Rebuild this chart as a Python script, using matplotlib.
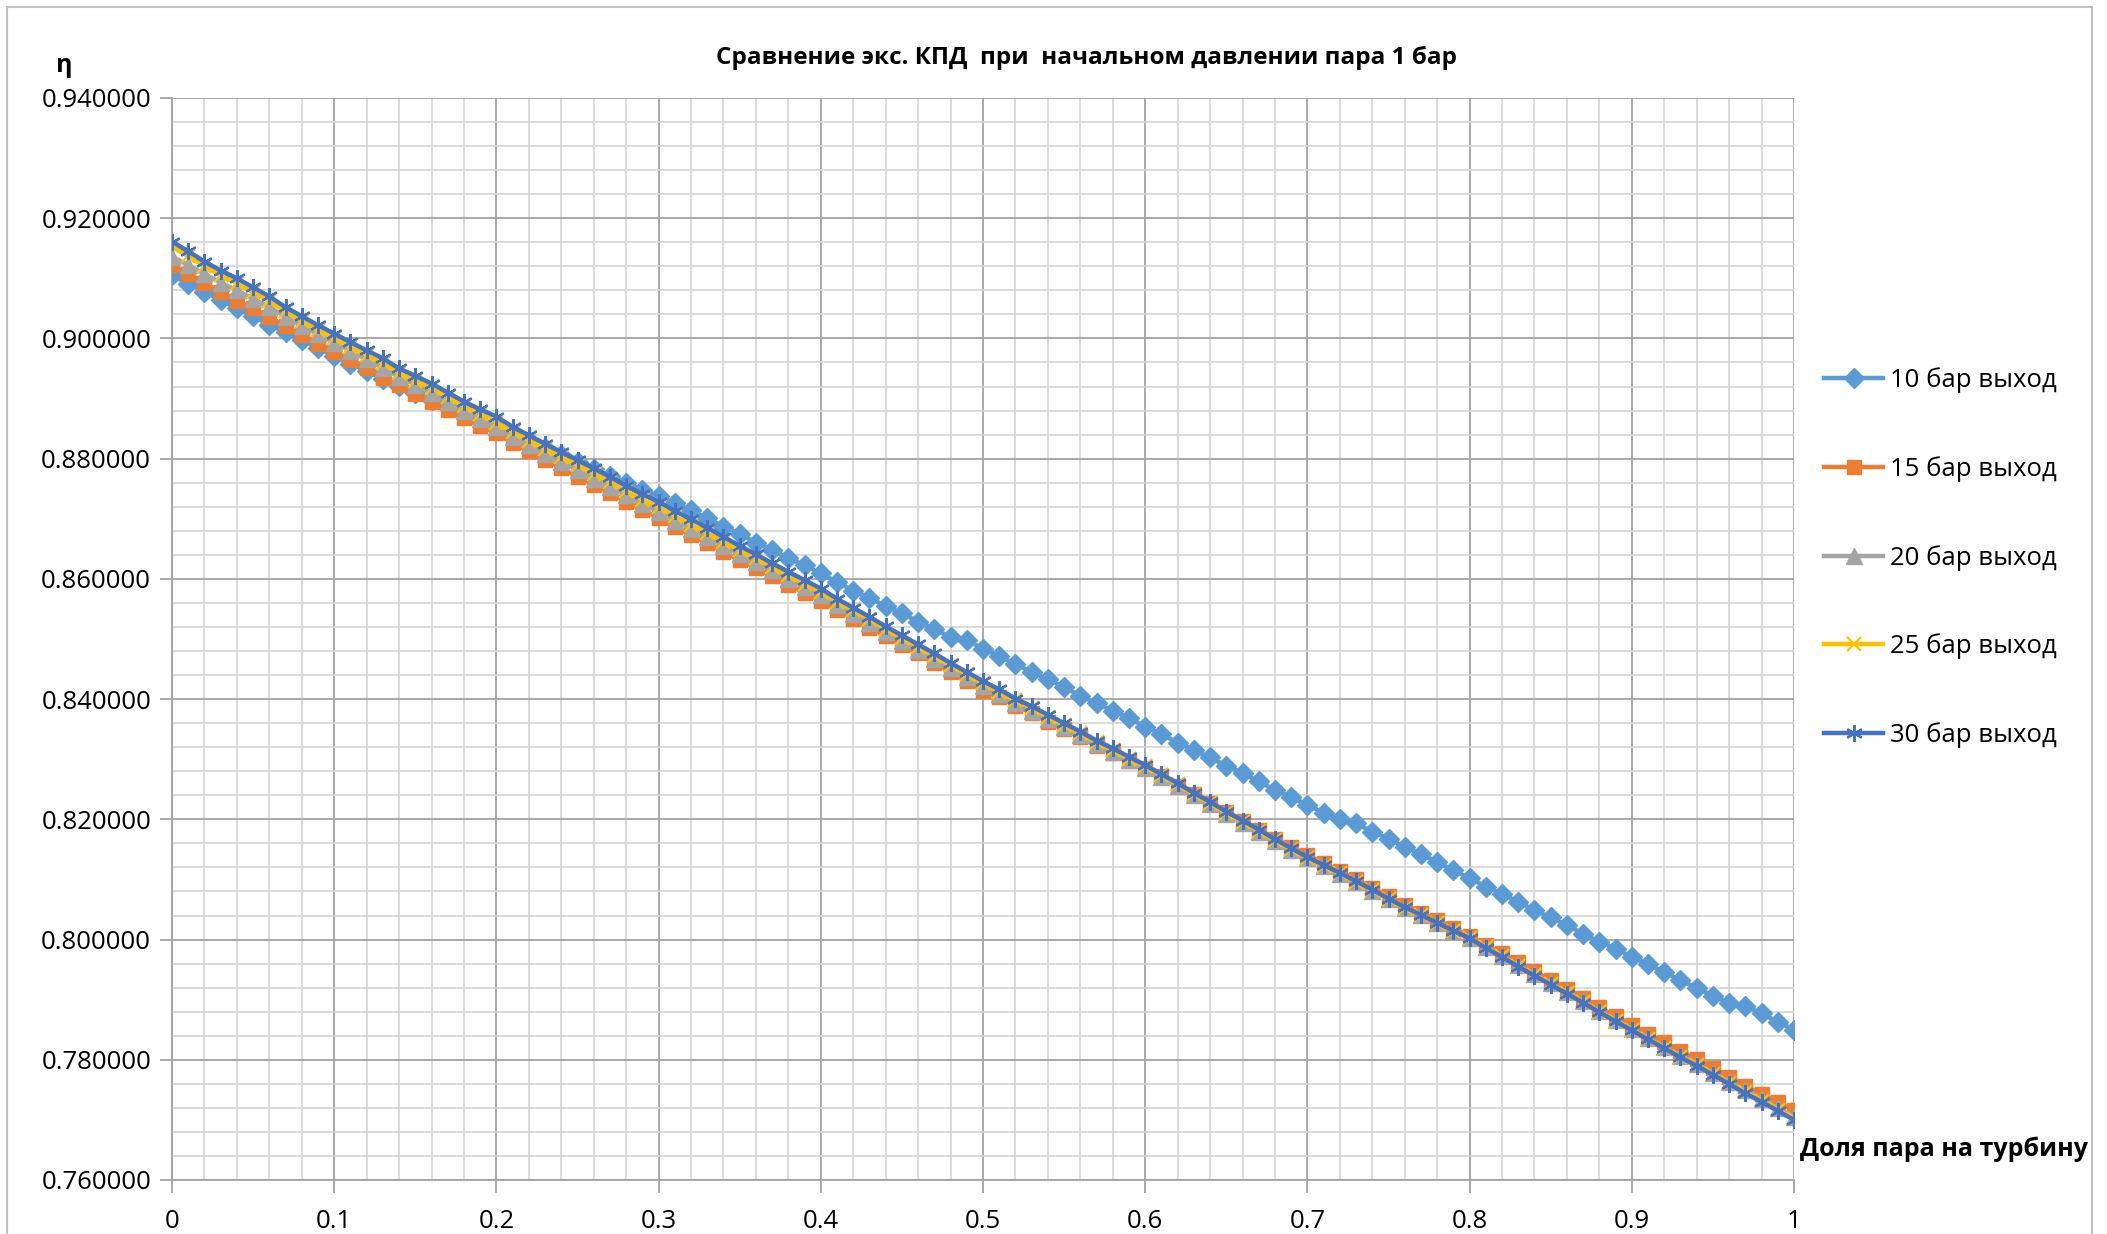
import matplotlib
matplotlib.use('Agg')
import matplotlib.pyplot as plt
import numpy as np
from matplotlib.patches import Rectangle
from matplotlib.ticker import MultipleLocator, FormatStrFormatter

plt.rcParams['font.family'] = ['Open Sans', 'DejaVu Sans']

# share of steam to the turbine, 0 .. 1 step 0.01
share = [round(i * 0.01, 2) for i in range(101)]

eta_10 = [0.9105, 0.9091, 0.9078, 0.9064, 0.9050, 0.9037, 0.9023, 0.9010, 0.8997, 0.8984,
          0.8971, 0.8958, 0.8946, 0.8933, 0.8921, 0.8909, 0.8897, 0.8886, 0.8874, 0.8863,
          0.8852, 0.8840, 0.8829, 0.8818, 0.8806, 0.8795, 0.8783, 0.8771, 0.8760, 0.8748,
          0.8738, 0.8726, 0.8714, 0.8701, 0.8687, 0.8675, 0.8660, 0.8648, 0.8634, 0.8623,
          0.8609, 0.8595, 0.8580, 0.8568, 0.8555, 0.8543, 0.8529, 0.8516, 0.8503, 0.8498,
          0.8484, 0.8472, 0.8458, 0.8445, 0.8433, 0.8420, 0.8405, 0.8393, 0.8381, 0.8368,
          0.8354, 0.8342, 0.8327, 0.8315, 0.8303, 0.8289, 0.8277, 0.8263, 0.8249, 0.8237,
          0.8224, 0.8211, 0.8200, 0.8194, 0.8179, 0.8168, 0.8154, 0.8142, 0.8129, 0.8115,
          0.8102, 0.8088, 0.8076, 0.8063, 0.8049, 0.8037, 0.8024, 0.8010, 0.7996, 0.7985,
          0.7971, 0.7959, 0.7946, 0.7932, 0.7920, 0.7906, 0.7895, 0.7890, 0.7877, 0.7863,
          0.7850]

eta_15 = [0.9122, 0.9107, 0.9093, 0.9077, 0.9063, 0.9050, 0.9035, 0.9020, 0.9006, 0.8991,
          0.8978, 0.8964, 0.8951, 0.8935, 0.8922, 0.8908, 0.8895, 0.8881, 0.8867, 0.8855,
          0.8842, 0.8826, 0.8812, 0.8798, 0.8784, 0.8770, 0.8757, 0.8743, 0.8728, 0.8715,
          0.8701, 0.8686, 0.8673, 0.8659, 0.8645, 0.8632, 0.8618, 0.8604, 0.8590, 0.8577,
          0.8563, 0.8549, 0.8534, 0.8519, 0.8505, 0.8490, 0.8476, 0.8460, 0.8445, 0.8430,
          0.8414, 0.8403, 0.8389, 0.8377, 0.8362, 0.8350, 0.8337, 0.8322, 0.8310, 0.8297,
          0.8285, 0.8272, 0.8256, 0.8242, 0.8227, 0.8212, 0.8197, 0.8183, 0.8168, 0.8154,
          0.8141, 0.8127, 0.8114, 0.8100, 0.8086, 0.8072, 0.8058, 0.8045, 0.8033, 0.8019,
          0.8006, 0.7991, 0.7977, 0.7962, 0.7947, 0.7933, 0.7917, 0.7903, 0.7887, 0.7872,
          0.7858, 0.7843, 0.7829, 0.7815, 0.7801, 0.7787, 0.7772, 0.7757, 0.7743, 0.7729,
          0.7716]

eta_20 = [0.9136, 0.9122, 0.9107, 0.9093, 0.9080, 0.9066, 0.9052, 0.9036, 0.9021, 0.9007,
          0.8993, 0.8979, 0.8965, 0.8951, 0.8936, 0.8923, 0.8910, 0.8895, 0.8880, 0.8866,
          0.8852, 0.8836, 0.8822, 0.8808, 0.8794, 0.8781, 0.8767, 0.8753, 0.8739, 0.8725,
          0.8712, 0.8697, 0.8683, 0.8669, 0.8655, 0.8641, 0.8628, 0.8614, 0.8600, 0.8586,
          0.8573, 0.8557, 0.8542, 0.8527, 0.8512, 0.8497, 0.8482, 0.8467, 0.8451, 0.8437,
          0.8422, 0.8408, 0.8394, 0.8381, 0.8367, 0.8354, 0.8340, 0.8325, 0.8312, 0.8298,
          0.8285, 0.8270, 0.8255, 0.8240, 0.8225, 0.8209, 0.8194, 0.8179, 0.8164, 0.8149,
          0.8135, 0.8122, 0.8109, 0.8095, 0.8081, 0.8067, 0.8053, 0.8041, 0.8028, 0.8015,
          0.8002, 0.7987, 0.7972, 0.7957, 0.7942, 0.7927, 0.7912, 0.7897, 0.7881, 0.7866,
          0.7851, 0.7836, 0.7821, 0.7807, 0.7793, 0.7778, 0.7763, 0.7749, 0.7734, 0.7720,
          0.7705]

eta_25 = [0.9153, 0.9137, 0.9120, 0.9105, 0.9092, 0.9077, 0.9062, 0.9045, 0.9029, 0.9014,
          0.9000, 0.8986, 0.8972, 0.8959, 0.8943, 0.8930, 0.8918, 0.8903, 0.8888, 0.8875,
          0.8860, 0.8844, 0.8830, 0.8816, 0.8802, 0.8789, 0.8775, 0.8761, 0.8746, 0.8732,
          0.8719, 0.8704, 0.8690, 0.8676, 0.8662, 0.8648, 0.8635, 0.8620, 0.8606, 0.8592,
          0.8579, 0.8562, 0.8548, 0.8533, 0.8517, 0.8502, 0.8487, 0.8472, 0.8456, 0.8441,
          0.8426, 0.8412, 0.8398, 0.8385, 0.8371, 0.8357, 0.8343, 0.8328, 0.8315, 0.8301,
          0.8288, 0.8273, 0.8258, 0.8242, 0.8227, 0.8211, 0.8196, 0.8181, 0.8165, 0.8150,
          0.8136, 0.8123, 0.8110, 0.8096, 0.8082, 0.8067, 0.8053, 0.8041, 0.8028, 0.8015,
          0.8002, 0.7987, 0.7972, 0.7956, 0.7941, 0.7926, 0.7911, 0.7896, 0.7880, 0.7865,
          0.7850, 0.7835, 0.7820, 0.7805, 0.7791, 0.7776, 0.7761, 0.7746, 0.7732, 0.7717,
          0.7702]

eta_30 = [0.9161, 0.9145, 0.9128, 0.9113, 0.9100, 0.9085, 0.9070, 0.9052, 0.9037, 0.9022,
          0.9008, 0.8994, 0.8980, 0.8967, 0.8950, 0.8938, 0.8925, 0.8910, 0.8895, 0.8882,
          0.8870, 0.8853, 0.8839, 0.8825, 0.8811, 0.8798, 0.8784, 0.8770, 0.8755, 0.8741,
          0.8728, 0.8713, 0.8699, 0.8685, 0.8670, 0.8655, 0.8641, 0.8626, 0.8612, 0.8598,
          0.8584, 0.8567, 0.8552, 0.8537, 0.8521, 0.8506, 0.8491, 0.8476, 0.8460, 0.8445,
          0.8430, 0.8416, 0.8401, 0.8388, 0.8374, 0.8360, 0.8346, 0.8331, 0.8318, 0.8304,
          0.8290, 0.8275, 0.8260, 0.8244, 0.8229, 0.8213, 0.8198, 0.8183, 0.8167, 0.8152,
          0.8137, 0.8124, 0.8111, 0.8097, 0.8083, 0.8068, 0.8054, 0.8041, 0.8028, 0.8015,
          0.8002, 0.7986, 0.7971, 0.7955, 0.7940, 0.7925, 0.7910, 0.7895, 0.7879, 0.7864,
          0.7849, 0.7834, 0.7819, 0.7804, 0.7790, 0.7775, 0.7760, 0.7744, 0.7730, 0.7715,
          0.7700]

labels = ['10 бар выход', '15 бар выход', '20 бар выход', '25 бар выход', '30 бар выход']
colors = ['#5B9BD5', '#ED7D31', '#A5A5A5', '#FFC000', '#4472C4']

fig = plt.figure(figsize=(21.07, 12.34), dpi=100)
ax = fig.add_axes([172 / 2107, 1 - 1180 / 1234, (1794 - 172) / 2107, (1180 - 98) / 1234])

# markers like the Excel ones: diamond, square, triangle, x, star
ax.plot(share, eta_10, color=colors[0], lw=3.2, marker='D', ms=10, label=labels[0], zorder=3)
ax.plot(share, eta_15, color=colors[1], lw=3.2, marker='s', ms=10, label=labels[1], zorder=4)
ax.plot(share, eta_20, color=colors[2], lw=3.2, marker='^', ms=11, label=labels[2], zorder=5)
ax.plot(share, eta_25, color=colors[3], lw=3.2, marker='x', ms=10, mew=1.6, label=labels[3], zorder=6)
ax.plot(share, eta_30, color=colors[4], lw=3.2, marker=(6, 2, 0), ms=12, mew=1.6, label=labels[4], zorder=7)

ax.set_xlim(0, 1)
ax.set_ylim(0.76, 0.94)
ax.xaxis.set_major_locator(MultipleLocator(0.1))
ax.xaxis.set_minor_locator(MultipleLocator(0.02))
ax.yaxis.set_major_locator(MultipleLocator(0.02))
ax.yaxis.set_minor_locator(MultipleLocator(0.004))
ax.yaxis.set_major_formatter(FormatStrFormatter('%.6f'))
ax.xaxis.set_major_formatter(plt.FuncFormatter(lambda v, p: '%g' % round(v, 2)))

ax.grid(which='major', color='#a3a3a3', lw=1.3, zorder=1)
ax.grid(which='minor', color='#d4d4d4', lw=1.2, zorder=0)
ax.set_axisbelow(True)
for s in ['top', 'right']:
    ax.spines[s].set_visible(False)
for s in ['left', 'bottom']:
    ax.spines[s].set_color('#a3a3a3')
    ax.spines[s].set_linewidth(1.3)

ax.tick_params(which='major', length=9, width=1.3, color='#a3a3a3', labelsize=18.5, pad=6)
ax.tick_params(which='minor', length=0)
ax.tick_params(axis='x', pad=12)

fig.text(1087 / 2107, 1 - 58 / 1234, 'Сравнение экс. КПД  при  начальном давлении пара 1 бар',
         ha='center', va='center', fontsize=17.5, fontweight='bold')
fig.text(64 / 2107, 1 - 66 / 1234, 'η', ha='center', va='center', fontsize=18, fontweight='bold')
fig.text(1800 / 2107, 1 - 1149 / 1234, 'Доля пара на турбину', ha='left', va='center',
         fontsize=18, fontweight='bold')

leg = fig.legend(loc='upper left', bbox_to_anchor=(1801 / 2107, 1 - 344 / 1234), frameon=False,
                 fontsize=18.5, handlelength=2.3, handletextpad=0.25, labelspacing=2.45)

# chart area border
fig.patches.append(Rectangle((7 / 2107, -0.01), (2092 - 7) / 2107, 1.01 - 7 / 1234,
                             transform=fig.transFigure, fill=False, edgecolor='#c0c0c0', lw=1.5))

fig.savefig('out.png', dpi=100)
